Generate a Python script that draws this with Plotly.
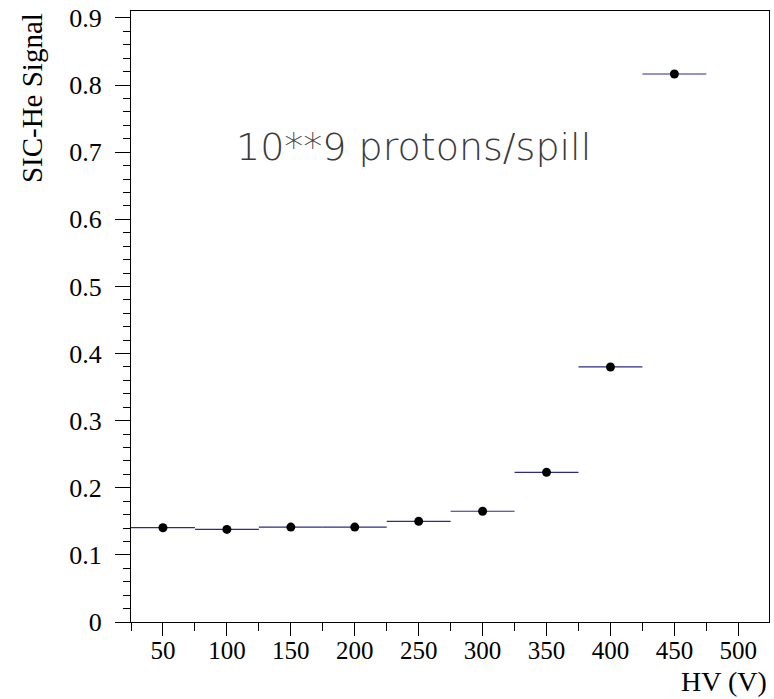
import plotly.graph_objects as go

hv = [50, 100, 150, 200, 250, 300, 350, 400, 450]
signal = [0.1405, 0.138, 0.1414, 0.1414, 0.150, 0.165, 0.223, 0.380, 0.8165]
half_width = [25, 25, 25, 25, 25, 25, 25, 25, 25]

x_ticks = [50, 100, 150, 200, 250, 300, 350, 400, 450, 500]
y_ticks = [0, 0.1, 0.2, 0.3, 0.4, 0.5, 0.6, 0.7, 0.8, 0.9]

fig = go.Figure()
fig.add_trace(go.Scatter(
    x=hv, y=signal, mode="markers",
    marker=dict(color="black", size=9),
    error_x=dict(type="data", array=half_width, visible=True,
                 color="#2b2b8c", thickness=1.2, width=0),
    showlegend=False,
))

serif = "Liberation Serif, Times New Roman, serif"
fig.update_layout(
    width=774, height=699,
    margin=dict(l=131, r=5, t=11, b=77),
    paper_bgcolor="white", plot_bgcolor="white",
    font=dict(family=serif, color="black"),
    xaxis=dict(range=[25, 524], tickvals=x_ticks, ticks="outside", ticklen=13,
               ticklabelstandoff=-7,
               tickwidth=1, tickcolor="black", showline=True, linecolor="black",
               linewidth=1, mirror=True, showgrid=False, zeroline=False,
               tickfont=dict(family=serif, size=25, color="black"),
               minor=dict(dtick=25, tick0=25, ticks="outside", ticklen=8,
                          tickcolor="black", showgrid=False)),
    yaxis=dict(range=[0, 0.9104], tickvals=y_ticks, ticktext=["0"] + [f"{v:.1f}" for v in y_ticks[1:]],
               ticks="outside", ticklen=15, ticklabelstandoff=8,
               tickwidth=1, tickcolor="black", showline=True, linecolor="black",
               linewidth=1, mirror=True, showgrid=False, zeroline=False,
               tickfont=dict(family=serif, size=26, color="black"),
               minor=dict(dtick=0.02, tick0=0, ticks="outside", ticklen=7,
                          tickcolor="black", showgrid=False)),
    annotations=[
        dict(text="10**9 protons/spill", x=245.6, y=0.708, xref="x", yref="y",
             showarrow=False, font=dict(family="DejaVu Sans", size=38, color="#3a3a3a", weight=300)),
        dict(text="HV (V)", x=1.0, y=-0.0975, xref="paper", yref="paper",
             xanchor="right", yanchor="middle", showarrow=False,
             font=dict(family=serif, size=28, color="black")),
        dict(text="SIC-He Signal", x=-0.155, y=1.0, xref="paper", yref="paper",
             xanchor="center", yanchor="top", textangle=-90, showarrow=False,
             font=dict(family=serif, size=29, color="black")),
    ],
)
fig.write_html("out.html")
